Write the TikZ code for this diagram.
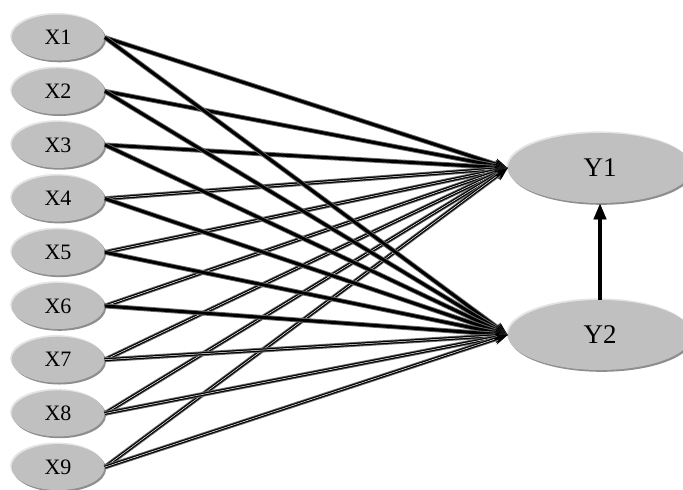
\documentclass[tikz,border=0pt]{standalone}
\usepackage{fontspec}
\setmainfont{Liberation Serif}
\usetikzlibrary{arrows.meta,shapes.geometric}
\definecolor{cN}{HTML}{C0C0C0}
\definecolor{cS}{HTML}{8E8E8E}
\definecolor{cH}{HTML}{E4E4E4}
\definecolor{cL}{HTML}{6E6E6E}
\tikzset{
  var/.style={ellipse,fill=cN,inner sep=0pt,
    preaction={fill=cH,transform canvas={shift={(-0.7pt,0.8pt)}}},
    preaction={fill=cS,transform canvas={shift={(0.8pt,-0.9pt)}}}},
  xvar/.style={var,minimum width=46.5pt,minimum height=23pt,
    font=\fontsize{11}{12}\selectfont},
  yvar/.style={var,minimum width=92pt,minimum height=35pt,
    font=\fontsize{13.5}{15}\selectfont},
  link/.style={-{Stealth[length=6.5pt,width=5.5pt]},line width=1.5pt,
    preaction={draw=cL,line width=2.4pt}},
  uplink/.style={link,postaction={draw=white,-,line width=0.25pt,shorten >=7pt}},
  effect/.style={-{Triangle[length=8pt,width=6pt]},line width=1.7pt,
    preaction={draw=cL,line width=2.4pt}},
}

\begin{document}
\begin{tikzpicture}[x=0.5pt,y=-0.5pt]
  \useasboundingbox (0,0) rectangle (683,489);
  \clip (0,0) rectangle (683,489);
  % exogenous variables
  \foreach \i in {1,...,9}
    \node[xvar] (x\i) at (58,{37.5+53.7*(\i-1)}) {X\i};
  % endogenous variables
  \node[yvar] (y1) at (600,168) {Y1};
  \node[yvar] (y2) at (600,335) {Y2};
  % paths
  \foreach \i in {1,...,3} \draw[link] (x\i.east) -- (y1.west);
  \foreach \i in {4,...,9} \draw[uplink] (x\i.east) -- (y1.west);
  \foreach \i in {1,...,6} \draw[link] (x\i.east) -- (y2.west);
  \foreach \i in {7,...,9} \draw[uplink] (x\i.east) -- (y2.west);
  \draw[effect] (y2.north) -- (y1.south);
\end{tikzpicture}
\end{document}
